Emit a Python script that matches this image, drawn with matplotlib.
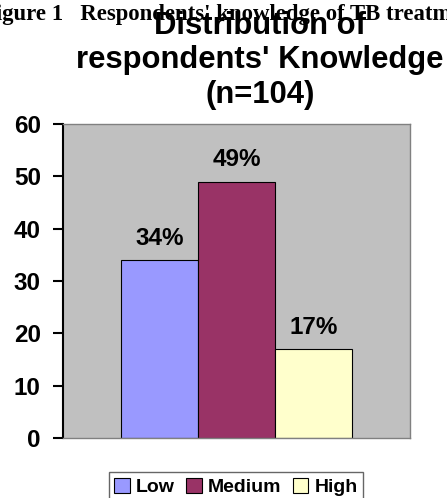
import numpy as np
import matplotlib.pyplot as plt

# data
categories = ["Low", "Medium", "High"]
counts = [34, 49, 17]
pct_labels = ["34%", "49%", "17%"]
bar_colors = ["#9999FF", "#993366", "#FFFFCC"]
y_ticks = [0, 10, 20, 30, 40, 50, 60]
title_lines = ["Distribution of", "respondents' Knowledge", "(n=104)"]
caption = "Figure 1   Respondents' knowledge of TB treatment"

plt.rcParams['font.family'] = ['Liberation Sans', 'DejaVu Sans']

fig = plt.figure(figsize=(4.47, 4.98), dpi=100)
ax = fig.add_axes([63 / 447, 1 - 438 / 498, 347 / 447, 314 / 498])
ax.set_facecolor("#C0C0C0")

x = np.arange(len(categories))
for i in range(len(categories)):
    ax.bar(x[i], counts[i], width=1.0, color=bar_colors[i], edgecolor="black",
           linewidth=0.8, label=categories[i], zorder=2)
    ax.annotate(pct_labels[i], (x[i], counts[i]), xytext=(0, 11),
                textcoords="offset points", ha="center", va="baseline",
                fontsize=17.5, fontweight="bold")

ax.set_xlim(-1.25, 3.25)
ax.set_ylim(0, 60)
ax.set_yticks(y_ticks)
ax.set_xticks([])
for lab in ax.get_yticklabels():
    lab.set_fontweight("bold")
ax.tick_params(axis="y", length=7, width=1.5, labelsize=17.5, pad=9)

for side in ["top", "right", "bottom"]:
    ax.spines[side].set_color("#808080")
    ax.spines[side].set_linewidth(1.0)
ax.spines["left"].set_color("black")
ax.spines["left"].set_linewidth(1.5)

# title lines (bold, centered a bit right of plot centre)
baselines = [34, 68, 103]
for line, b in zip(title_lines, baselines):
    fig.text(260 / 447, 1 - b / 498, line, ha="center", va="baseline",
             fontsize=22.3, fontweight="bold")

# caption from the page behind, partly cut off
fig.text(-18 / 447, 1 - 20 / 498, caption, ha="left", va="baseline",
         fontsize=16.4, fontweight="bold", family=["Liberation Serif", "DejaVu Serif"])

leg = fig.legend(loc="upper center", bbox_to_anchor=(236 / 447, 1 - 472 / 498),
                 ncol=3, prop={"weight": "bold", "size": 14},
                 frameon=True, fancybox=False, edgecolor="#404040",
                 handlelength=0.8, handleheight=0.8, handletextpad=0.3,
                 columnspacing=0.6, borderpad=0.3, borderaxespad=0)
leg.get_frame().set_linewidth(1.0)

fig.savefig("out.png", dpi=100)
